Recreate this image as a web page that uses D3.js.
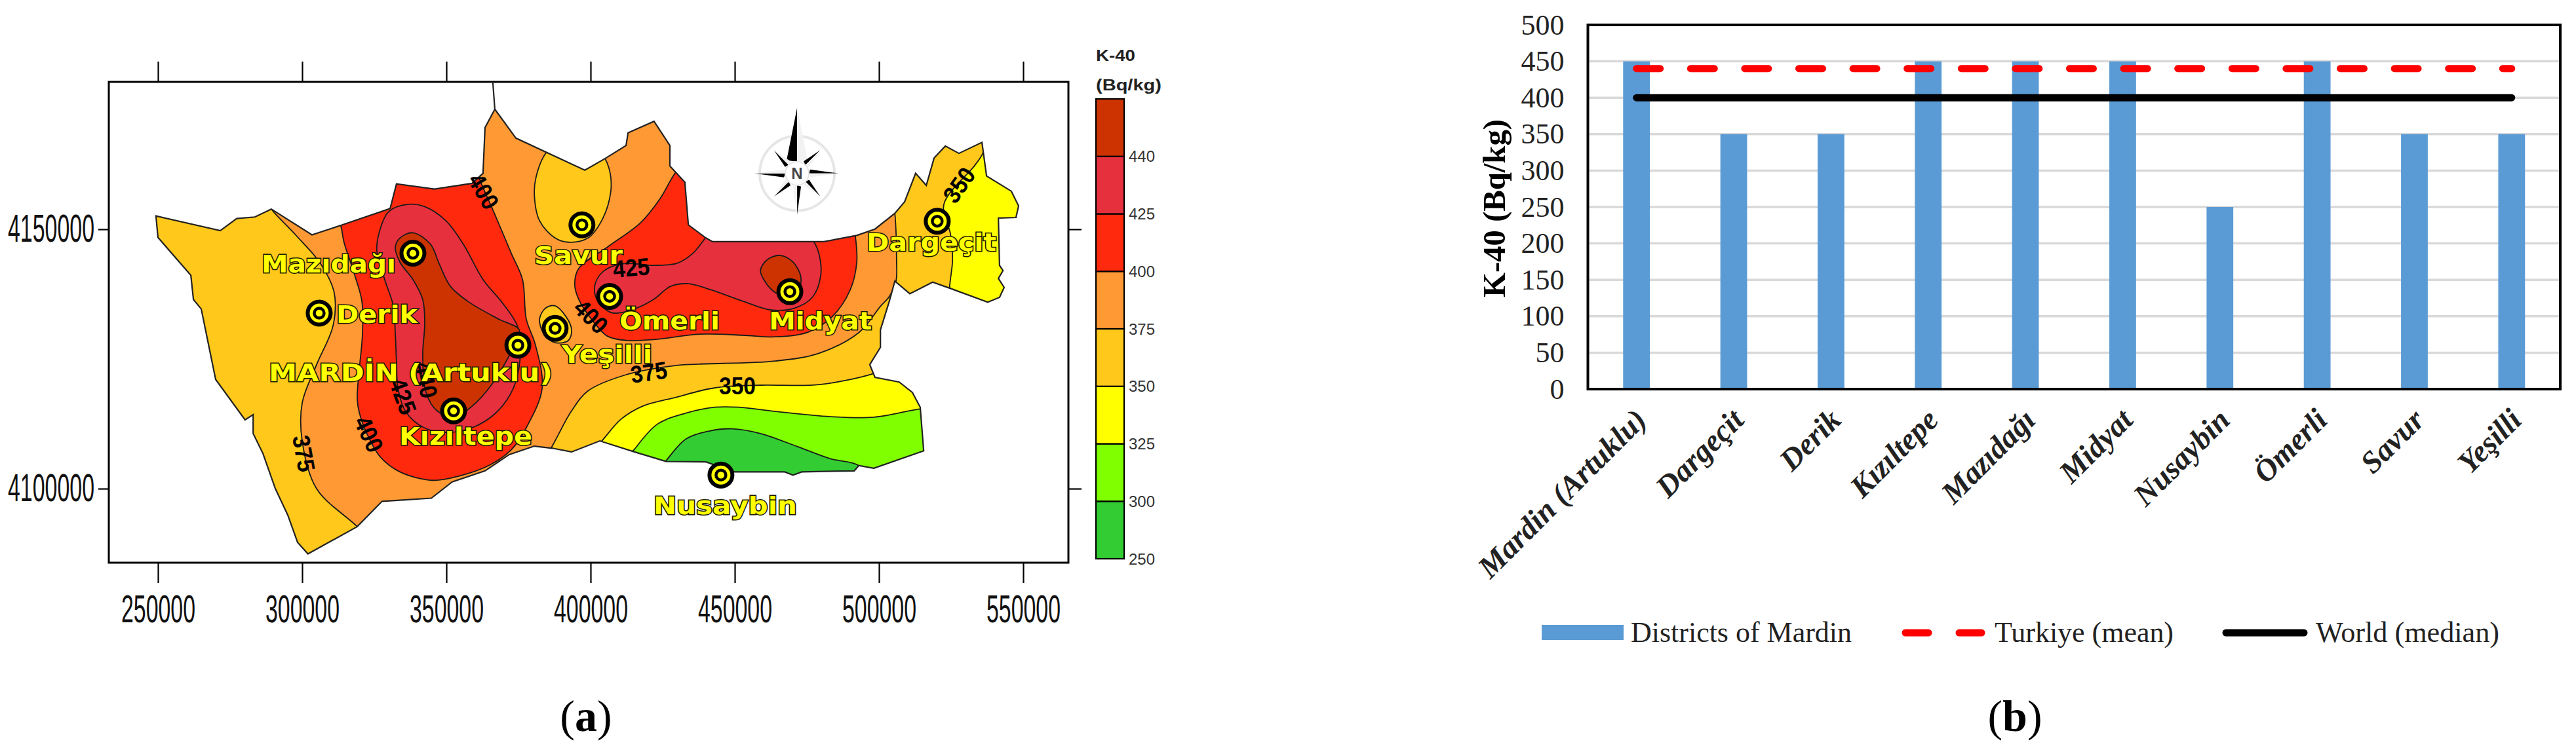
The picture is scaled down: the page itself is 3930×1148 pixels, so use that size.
<!DOCTYPE html>
<html><head><meta charset="utf-8">
<script src="https://cdn.jsdelivr.net/npm/d3@7/dist/d3.min.js"></script>
<style>html,body{margin:0;padding:0;background:#fff}svg{display:block}</style>
</head><body><svg id="c" width="3930" height="1148"></svg>
<script>
// ---------- panel (a): map, easting km / northing km ----------
const eastTicks=[250,300,350,400,450,500,550];
const northTicks=[4100,4150];
const colorLevels=[250,300,325,350,375,400,425,440];
const colorBands=["#33CC33","#7FFF00","#FFFF00","#FFC81A","#FF9933","#FF2A0E","#E6303E","#CC3300"];
const boundary=[[249.3,4153.1],[271.6,4150.3],[277.3,4152.6],[283.6,4152.9],[289.3,4154.4],[303.4,4149.5],[313.4,4151.3],[330.5,4154.5],[332.7,4159.2],[345.9,4158.2],[358.9,4159.3],[362.7,4161.2],[363.4,4169.9],[366.8,4173.4],[366.1,4178.6],[366.8,4173.4],[374.1,4167.9],[398,4161.8],[405,4164],[412.3,4166.5],[413,4168.9],[422,4171.1],[427.5,4166.5],[427.5,4162.6],[432.7,4159.5],[433.9,4151.4],[440,4148.9],[442.3,4148.2],[480.9,4148.2],[492.3,4149.4],[498.6,4150.6],[505.5,4153.6],[508.9,4155.8],[512.7,4161.2],[516.4,4158.9],[519.1,4164.1],[523,4166.4],[527.7,4165],[535.7,4167.1],[537.3,4160.7],[545.9,4157.8],[548.4,4155],[547.5,4152.8],[541.4,4152.7],[541.8,4143.7],[543,4142.7],[541.4,4141.2],[543.4,4139.5],[541.8,4137.6],[537.7,4136.7],[524.8,4139.3],[518.6,4140.5],[510.7,4138.3],[505.5,4140.7],[503.6,4136.9],[500.5,4131.4],[500.5,4128.1],[496.8,4124.8],[498.6,4122.4],[507,4121.5],[511.6,4119.5],[514.3,4116.7],[515.5,4108.4],[498.2,4105.1],[493,4105.6],[491.4,4104.6],[473.2,4104.4],[470.2,4103.8],[467.3,4104.4],[449.8,4104.4],[440,4106.3],[426.1,4106.4],[415.2,4108.2],[403.2,4110.3],[393.4,4108.2],[386.8,4108.9],[380.5,4109.3],[371.8,4107.7],[363.4,4104.6],[352,4102.5],[344.8,4099.4],[327.7,4098.8],[319.1,4094],[302,4088.8],[298.4,4091],[295,4096.2],[290.7,4101.2],[286.4,4107.9],[283,4111.7],[283,4115.3],[280.2,4114.3],[270,4122],[265,4135.4],[262.3,4137.2],[261.4,4141.8],[250,4149]];
const zone375=[[286.1,4157.2],[289.3,4154.4],[297.7,4149.5],[306.4,4144],[311.1,4138.5],[310.7,4132.2],[305,4124.8],[300,4117.5],[300,4110.3],[305,4101.2],[319.1,4094],[327,4089.6],[358.9,4089],[377,4100],[386.8,4109.4],[393.4,4116],[399.1,4119.8],[411.8,4122.8],[428.9,4124.6],[437.5,4124.9],[464.1,4125.5],[479.3,4127],[493,4130.9],[500.5,4135.9],[503.6,4137.8],[505.9,4140.7],[506.1,4144.7],[505.5,4153.6],[504.3,4158],[490.7,4175.5],[365.7,4181.7],[308.9,4169.3]];
const islandSavur=[[384.3,4164.9],[381.1,4160.5],[380.5,4157.2],[382.3,4152.2],[387.7,4148.9],[392.3,4148.1],[399.1,4148.9],[404.3,4152.7],[407,4157.7],[406.8,4161.2],[405,4164],[399.8,4167.4],[390.7,4168]];
const islandYesilli=[[382.3,4133.5],[384.5,4135.6],[387.7,4136],[391.4,4134],[393.4,4131.5],[392.3,4129.4],[387.7,4129],[383.9,4130.6]];
const zone400West=[[313.4,4151.2],[314.5,4148.1],[318,4142.2],[320.7,4136.9],[320.9,4130.6],[319.5,4122.3],[319.1,4118.2],[319.8,4115.7],[322.5,4111.6],[327,4107.3],[333.9,4104.4],[345.2,4102.8],[354.3,4103.6],[365,4105.7],[372.5,4108.6],[377.7,4112.8],[383.2,4120.3],[380.9,4128.5],[377.7,4133.5],[376.4,4141],[372.5,4146],[366.4,4153.9],[361.8,4159.7],[358.9,4164.3],[331.6,4163],[311.1,4154.3]];
const zone400East=[[428.9,4160.9],[424.1,4156.4],[417.3,4151.8],[405.9,4147.2],[395.9,4143.1],[394.5,4140.2],[395.9,4137.2],[401.4,4132.7],[405.9,4130.2],[412.7,4129.4],[422.5,4129.6],[437.7,4130.6],[452.7,4130.4],[464.1,4130.1],[475.5,4131],[483.9,4134],[490,4139],[492.3,4144.3],[491.8,4149.3],[490.7,4153.1],[468,4156.8],[436.1,4166.1]];
const zone425West=[[326.4,4149.3],[325.9,4146.4],[328.6,4141],[331.6,4136],[332.3,4130.6],[332.7,4125.3],[333.2,4120.3],[336.1,4115.7],[342.3,4112.8],[349.8,4111.9],[358.9,4112.8],[367.3,4115.7],[373.2,4120.3],[375.5,4125.6],[374.8,4131.9],[369.5,4136.5],[362.7,4141],[355.9,4147.7],[349.8,4152.2],[342.3,4154.9],[336.8,4155.3],[330,4153.9]];
const zone425East=[[439.5,4148.7],[435.5,4146],[430,4144.1],[421.8,4143.7],[411.1,4144],[404.3,4142.5],[401.4,4139.7],[402.5,4136.9],[407.3,4134.7],[414.1,4135.2],[421.8,4137.2],[427.7,4139.7],[433.9,4140.2],[441.4,4139.1],[452.7,4136.9],[462.7,4135.2],[470.9,4135.6],[477,4137.7],[479.8,4141.8],[479.3,4145.6],[477.5,4148.1],[468,4153.1],[445.2,4153.1]];
const zone440West=[[332.3,4147.2],[333.9,4144.3],[338.4,4141],[341.8,4137.2],[342.5,4132.7],[341.8,4126.5],[343,4119.4],[346.8,4116],[352.5,4114.8],[358.9,4116.9],[365.7,4121],[371.8,4126.5],[374.8,4129.7],[375.2,4131.5],[368,4133.5],[357.3,4136.9],[351.4,4139.7],[347.5,4144],[344.5,4147.7],[338.4,4149.9],[333.9,4148.9]];
const zone440East=[[458.9,4142.7],[461.1,4144.7],[465.7,4145.6],[470.2,4144.3],[472.9,4141.5],[472,4139],[468.6,4137.7],[464.1,4138.5],[460.5,4140.6]];
const zone325South=[[400.9,4108.7],[403.6,4110.1],[410.5,4114.4],[418,4116.9],[428.9,4118.5],[443.2,4120.4],[458.9,4120.9],[479.3,4121],[497.5,4123],[500.9,4123.8],[518,4123.1],[522.5,4104.4],[490.7,4099.5],[422.5,4099.5]];
const zone325East=[[538.4,4169.3],[535.9,4164.9],[533.2,4162.7],[522.5,4155.3],[524.8,4149.6],[525.5,4144.7],[524.5,4139.5],[524.8,4134.4],[558.9,4134.4],[558.9,4169.3]];
const zone300=[[413.4,4107.4],[415.2,4108.7],[423.2,4113.5],[433.9,4115.7],[443,4116.7],[451.4,4116.7],[464.1,4115.9],[483.2,4114.9],[498.2,4114.8],[514.5,4116.4],[524.8,4116.9],[524.8,4099.5],[468,4097],[413.4,4102]];
const zone250=[[423.6,4104.9],[426.1,4106.5],[433.2,4110.7],[441.4,4112.2],[449.1,4112.6],[458.9,4111.7],[471.8,4109.2],[483.2,4106.9],[493,4105.6],[497.5,4102],[468,4098.2],[426.1,4100.7]];
const siteNames=["Mazıdağı","Derik","MARDİN (Artuklu)","Yeşilli","Savur","Ömerli","Kızıltepe","Midyat","Dargeçit","Nusaybin"];
const siteE=[338.4,305.9,374.8,387.7,397,406.6,352.5,469.1,520.2,445.2];
const siteN=[4146,4134.6,4128.5,4131.7,4151.4,4137.8,4116,4138.7,4152.1,4103.8];
const nameE=[309.2,325.9,337.6,405.7,395.8,427.4,356.7,479.7,518.2,446.7];
const nameN=[4142.3,4132.7,4121.6,4125.1,4144,4131.5,4109.6,4131.5,4146.4,4096.4];
const nameWidth=[205,124,433,138,135,153,203,157,198,219];
const contourText=["400","425","400","400","425","440","375","375","350","350"];
const contourE=[363,414.1,400.2,323.2,335,343,300.7,420.2,450.9,527.7];
const contourN=[4157.8,4143.3,4134,4111.6,4118.8,4121.9,4107.9,4123.4,4120.8,4159];
const contourAngle=[60,-5,45,65,70,78,80,-8,0,-55];
const compassAt=[471.6,4161.2];
const compassBearing=[0,45,90,135,180,225,270,315];
const compassReach=[100,50,63,50,63,50,65,50];

// ---------- panel (b): bars ----------
const districts=["Mardin (Artuklu)","Dargeçit","Derik","Kızıltepe","Mazıdağı","Midyat","Nusaybin","Ömerli","Savur","Yeşilli"];
const k40=[450,350,350,450,450,450,250,450,350,350];
const turkiyeMean=[440,440,440,440,440,440,440,440,440,440];
const worldMedian=[400,400,400,400,400,400,400,400,400,400];
const yTicks=[0,50,100,150,200,250,300,350,400,450,500];

const svg=d3.select("#c");
const SANS="'Liberation Sans',Arial,sans-serif", SERIF="'Liberation Serif','Times New Roman',serif", DJ="'DejaVu Sans',Verdana,sans-serif";
const fit=(s,w)=>s.attr("textLength",w).attr("lengthAdjust","spacingAndGlyphs");

// ===== MAP =====
const x=d3.scaleLinear().domain([250,550]).range([241,1561]);
const y=d3.scaleLinear().domain([4100,4150]).range([755.7,354.5]);
const yAxisScale=d3.scaleLinear().domain([4100,4150]).range([746,350]);
const L=166,R=1630,T=125,B=859;
const straight=d3.line().x(d=>x(d[0])).y(d=>y(d[1])).curve(d3.curveLinearClosed);
const smooth=d3.line().x(d=>x(d[0])).y(d=>y(d[1])).curve(d3.curveCatmullRomClosed.alpha(0.5));
const gm=svg.append("g");
gm.append("rect").attr("x",L).attr("y",T).attr("width",R-L).attr("height",B-T).attr("fill","#fff").attr("stroke","#000").attr("stroke-width",3);
svg.append("defs").append("clipPath").attr("id","mapclip").append("path").attr("d",straight(boundary));
gm.append("path").attr("d",straight(boundary)).attr("fill",colorBands[3]);
const layers=[[zone375,4],[islandSavur,3],[islandYesilli,3],[zone400West,5],[zone400East,5],[zone425West,6],[zone425East,6],[zone440West,7],[zone440East,7],[zone325South,2],[zone325East,2],[zone300,1],[zone250,0]];
gm.append("g").attr("clip-path","url(#mapclip)").selectAll("path").data(layers).join("path")
  .attr("d",d=>smooth(d[0])).attr("fill",d=>colorBands[d[1]]).attr("stroke","#1a1a1a").attr("stroke-width",1.8);
gm.append("path").attr("d",straight(boundary)).attr("fill","none").attr("stroke","#222").attr("stroke-width",2.2);

// axes
const styleAxis=g=>{g.select(".domain").remove();g.selectAll("line").attr("stroke","#000").attr("stroke-width",2.2);
  g.selectAll("text").attr("font-family",SANS).attr("font-size",59).attr("fill","#111");};
gm.append("g").attr("transform",`translate(0,${B})`).call(d3.axisBottom(x).tickValues(eastTicks).tickSize(31).tickPadding(18).tickFormat(d=>d*1000)).call(styleAxis).selectAll("text").call(fit,113);
gm.append("g").attr("transform",`translate(0,${T})`).call(d3.axisTop(x).tickValues(eastTicks).tickSize(31).tickFormat("")).call(styleAxis);
gm.append("g").attr("transform",`translate(${L},0)`).call(d3.axisLeft(yAxisScale).tickValues(northTicks).tickSize(16).tickPadding(6).tickFormat(d=>d*1000)).call(styleAxis).selectAll("text").call(fit,132);
gm.append("g").attr("transform",`translate(${R},0)`).call(d3.axisRight(yAxisScale).tickValues(northTicks).tickSize(20).tickFormat("")).call(styleAxis);

// contour labels
gm.selectAll("text.cl").data(contourText).join("text").attr("class","cl")
  .attr("transform",(d,i)=>`translate(${x(contourE[i])},${y(contourN[i])}) rotate(${contourAngle[i]})`)
  .attr("text-anchor","middle").attr("dy","0.36em").attr("font-family",SANS).attr("font-size",37).attr("font-weight",700).attr("fill","#000")
  .attr("textLength",56).attr("lengthAdjust","spacingAndGlyphs").text(d=>d);

// site markers
const mk=gm.selectAll("g.mk").data(siteE).join("g").attr("class","mk").attr("transform",(d,i)=>`translate(${x(d)},${y(siteN[i])})`);
mk.append("circle").attr("r",17.5).attr("fill","#FFFF00").attr("stroke","#000").attr("stroke-width",6);
mk.append("circle").attr("r",7.5).attr("fill","#FFFF00").attr("stroke","#000").attr("stroke-width",4.5);

// site names
gm.selectAll("text.nm").data(siteNames).join("text").attr("class","nm")
  .attr("x",(d,i)=>x(nameE[i])).attr("y",(d,i)=>y(nameN[i])).attr("text-anchor","middle")
  .attr("font-family",DJ).attr("font-weight",700).attr("font-size",38).attr("fill","#FFFF00").attr("stroke","#1a1a00").attr("stroke-width",3).attr("paint-order","stroke")
  .attr("textLength",(d,i)=>nameWidth[i]).attr("lengthAdjust","spacingAndGlyphs").text(d=>d);

// compass
const cp=gm.append("g").attr("transform",`translate(${x(compassAt[0])},${y(compassAt[1])})`);
cp.append("circle").attr("r",57).attr("fill","none").attr("stroke","#e6e6e6").attr("stroke-width",4);
const nd=cp.selectAll("g").data(compassBearing).join("g").attr("transform",d=>`rotate(${d})`);
const needle=d3.line();
nd.append("path").attr("d",(d,i)=>needle([[0,-compassReach[i]],[0,-18],[(i==0?-16:-6),-20]])+"Z").attr("fill","#000");
nd.append("path").attr("d",(d,i)=>needle([[0,-compassReach[i]],[0,-18],[(i==0?16:6),-20]])+"Z").attr("fill","#f2f2f2");
cp.append("circle").attr("r",18).attr("fill","#fff").attr("stroke","#e6e6e6").attr("stroke-width",2);
cp.append("text").attr("text-anchor","middle").attr("dy","0.36em").attr("font-family",SANS).attr("font-weight",700).attr("font-size",24).attr("fill","#444").text("N");

// colour key
const keyY=d3.scaleLinear().domain([0,colorBands.length]).range([853,151]);
const gk=svg.append("g");
gk.selectAll("rect").data(colorBands).join("rect").attr("x",1672).attr("width",43).attr("y",(d,i)=>keyY(i+1)).attr("height",(853-151)/colorBands.length).attr("fill",d=>d).attr("stroke","#000").attr("stroke-width",2.2);
gk.selectAll("text.k").data(colorLevels).join("text").attr("class","k").attr("x",1722).attr("y",(d,i)=>keyY(i)).attr("dy","0.36em")
  .attr("font-family",SANS).attr("font-size",24).attr("fill","#333").attr("textLength",40).attr("lengthAdjust","spacingAndGlyphs").text(d=>d);
gk.append("text").attr("x",1672).attr("y",93).attr("font-family",SANS).attr("font-weight",700).attr("font-size",24).attr("fill","#222").attr("textLength",60).attr("lengthAdjust","spacingAndGlyphs").text("K-40");
gk.append("text").attr("x",1672).attr("y",138).attr("font-family",SANS).attr("font-weight",700).attr("font-size",24).attr("fill","#222").attr("textLength",100).attr("lengthAdjust","spacingAndGlyphs").text("(Bq/kg)");

// (a)
const ta=svg.append("text").attr("x",894).attr("y",1116).attr("text-anchor","middle").attr("font-family",SERIF).attr("font-size",68);
ta.append("tspan").text("(");ta.append("tspan").attr("font-weight",700).text("a");ta.append("tspan").text(")");

// ===== BARS =====
const PL=2422.5,PR=3906,PT=38,PB=594;
const bx=d3.scaleBand().domain(districts).range([PL,PR]).paddingInner(0.725).paddingOuter(0.3625);
const by=d3.scaleLinear().domain([0,500]).range([PB,PT]);
const gb=svg.append("g");
gb.append("g").selectAll("line").data(yTicks.slice(1,-1)).join("line").attr("x1",PL).attr("x2",PR).attr("y1",d=>by(d)).attr("y2",d=>by(d)).attr("stroke","#D9D9D9").attr("stroke-width",3.5);
gb.append("g").selectAll("rect").data(k40).join("rect").attr("x",(d,i)=>bx(districts[i])).attr("width",bx.bandwidth()).attr("y",d=>by(d)).attr("height",d=>by(0)-by(d)).attr("fill","#5B9BD5");
const cx=i=>bx(districts[i])+bx.bandwidth()/2;
const ln=d3.line().x((d,i)=>cx(i)).y(d=>by(d));
gb.append("path").attr("d",ln(turkiyeMean)).attr("fill","none").attr("stroke","#FF0000").attr("stroke-width",11).attr("stroke-linecap","round").attr("stroke-dasharray","36 46.6");
gb.append("path").attr("d",ln(worldMedian)).attr("fill","none").attr("stroke","#000").attr("stroke-width",11).attr("stroke-linecap","round");
gb.append("rect").attr("x",PL).attr("y",PT).attr("width",PR-PL).attr("height",PB-PT).attr("fill","none").attr("stroke","#000").attr("stroke-width",4);
const ay=gb.append("g").attr("transform",`translate(${PL},0)`).call(d3.axisLeft(by).tickValues(yTicks).tickSize(0).tickPadding(36));
ay.select(".domain").remove();
ay.selectAll("text").attr("font-family",SERIF).attr("font-size",44).attr("fill","#222");
gb.append("text").attr("transform","translate(2296,318) rotate(-90)").attr("text-anchor","middle").attr("font-family",SERIF).attr("font-weight",700).attr("font-size",48).attr("textLength",272).attr("lengthAdjust","spacingAndGlyphs").text("K-40 (Bq/kg)");
gb.append("g").selectAll("text").data(districts).join("text")
  .attr("transform",(d,i)=>`translate(${cx(i)+18},644) rotate(-45)`).attr("text-anchor","end")
  .attr("font-family",SERIF).attr("font-style","italic").attr("font-weight",700).attr("font-size",47).attr("fill","#222").text(d=>d);

// legend
const lg=svg.append("g");
lg.append("rect").attr("x",2352).attr("y",954).attr("width",125).attr("height",23).attr("fill","#5B9BD5");
lg.append("line").attr("x1",2907).attr("x2",2942).attr("y1",966).attr("y2",966).attr("stroke","#f00").attr("stroke-width",11).attr("stroke-linecap","round");
lg.append("line").attr("x1",2989).attr("x2",3023).attr("y1",966).attr("y2",966).attr("stroke","#f00").attr("stroke-width",11).attr("stroke-linecap","round");
lg.append("line").attr("x1",3396).attr("x2",3515).attr("y1",966).attr("y2",966).attr("stroke","#000").attr("stroke-width",11).attr("stroke-linecap","round");
const legendText=[["Districts of Mardin",2488,337],["Turkiye (mean)",3043,273],["World (median)",3533,280]];
lg.selectAll("text").data(legendText).join("text").attr("x",d=>d[1]).attr("y",980).attr("font-family",SERIF).attr("font-size",44).attr("fill","#222")
  .attr("textLength",d=>d[2]).attr("lengthAdjust","spacingAndGlyphs").text(d=>d[0]);

// (b)
const tb=svg.append("text").attr("x",3074).attr("y",1116).attr("text-anchor","middle").attr("font-family",SERIF).attr("font-size",68);
tb.append("tspan").text("(");tb.append("tspan").attr("font-weight",700).text("b");tb.append("tspan").text(")");
</script></body></html>
